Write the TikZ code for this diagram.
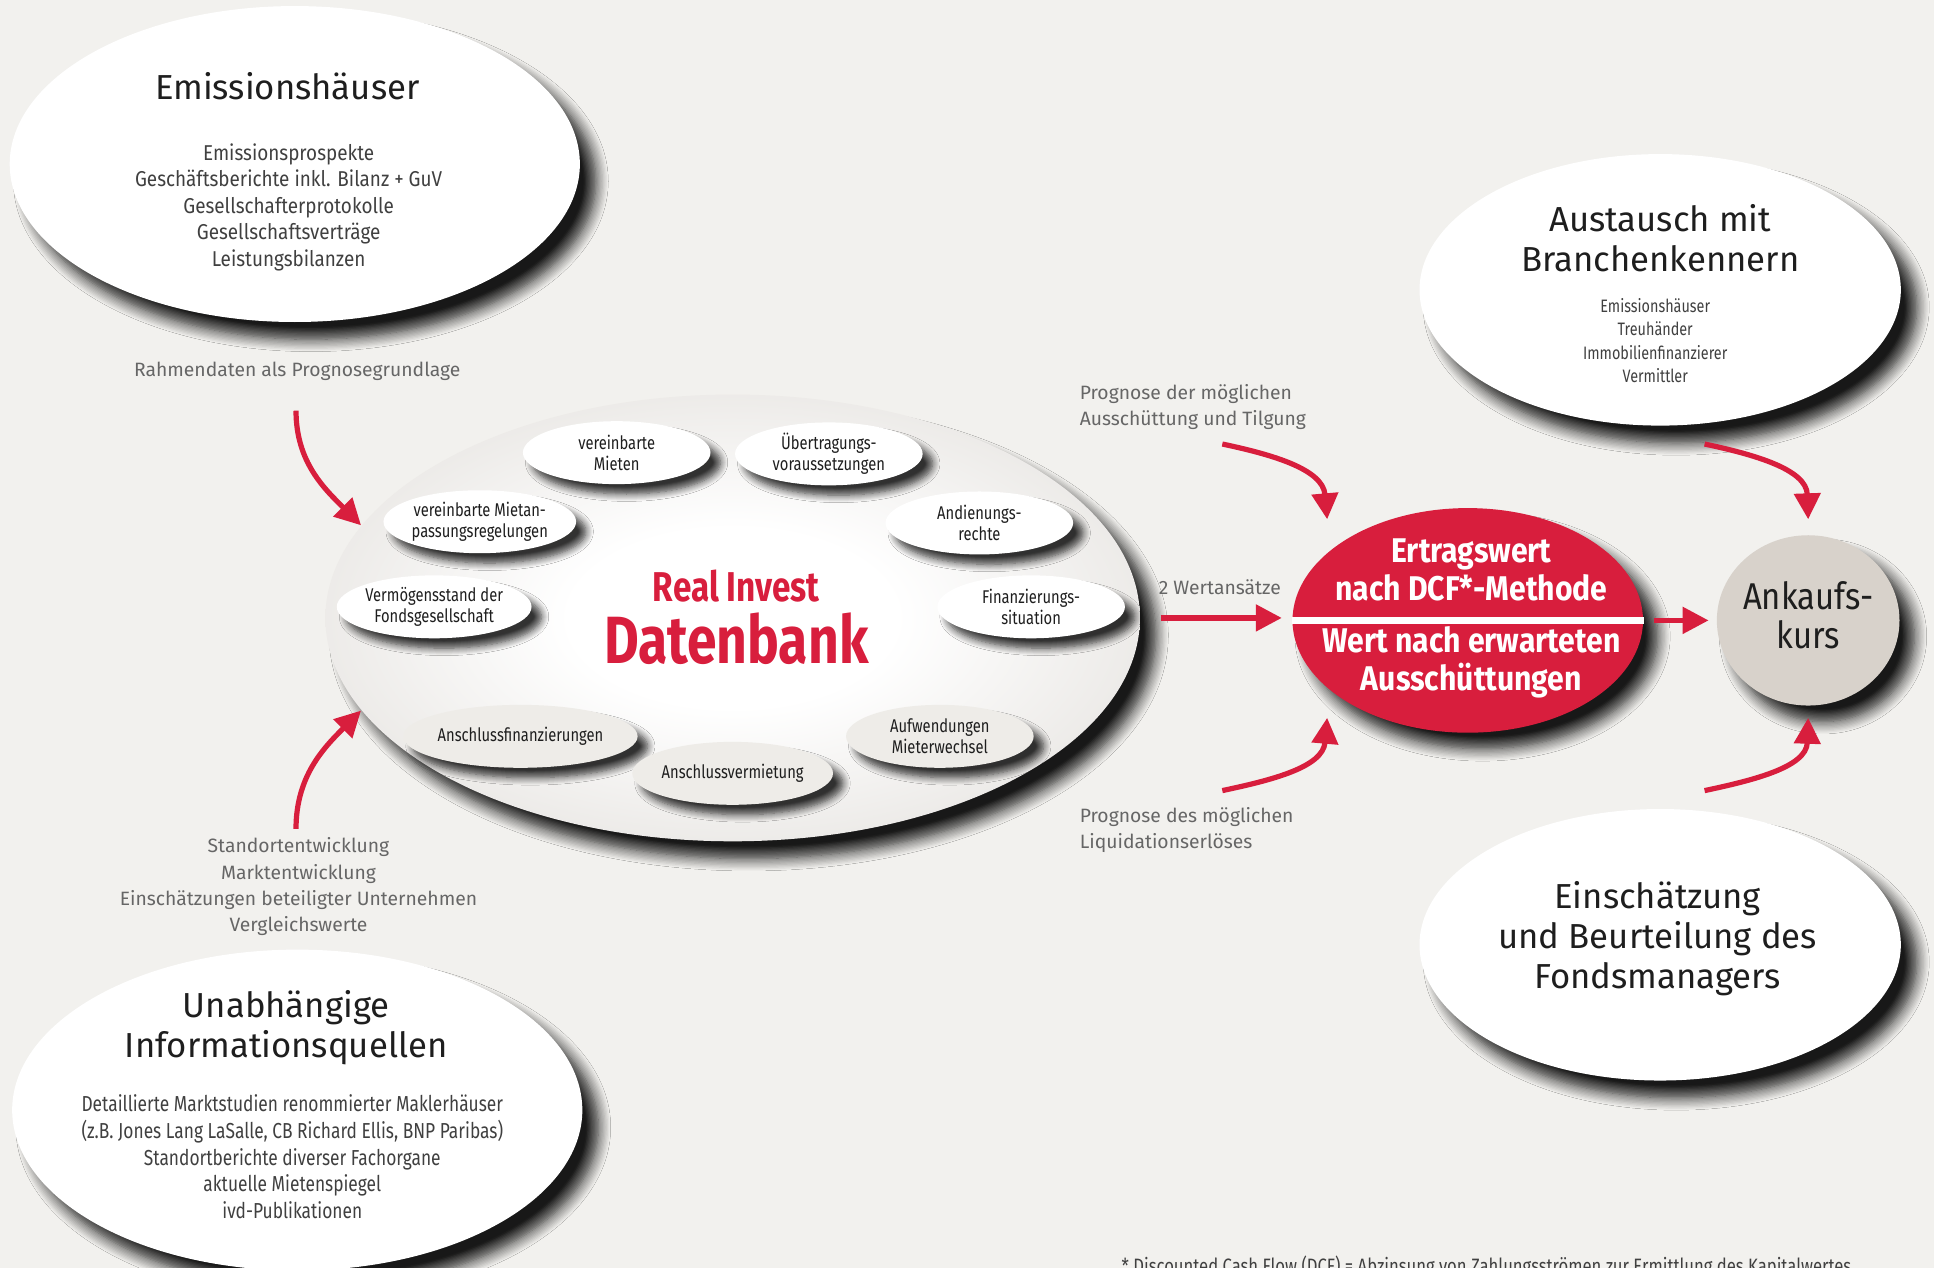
\documentclass[tikz,border=0pt]{standalone}
\usepackage{fontspec}
\setmainfont{Fira Sans}
\newfontfamily\condfont[FakeStretch=0.8]{Fira Sans}
\newfontfamily\semicond[FakeStretch=0.88]{Fira Sans}
\usetikzlibrary{shapes.geometric,arrows.meta,shadows.blur}

\definecolor{bgcol}{HTML}{F2F1EE}
\definecolor{rired}{HTML}{D81E3D}
\definecolor{txtgray}{HTML}{666666}
\definecolor{txtdark}{HTML}{1E1E1E}
\definecolor{kursfill}{HTML}{D8D2CB}
\definecolor{dbmid}{HTML}{E2DFDB}
\definecolor{dbedge}{HTML}{C9C4BF}
\definecolor{ovalgray}{HTML}{EEECE8}

\pgfdeclareradialshading{dbshade}{\pgfpoint{0bp}{0bp}}{color(0bp)=(white); color(10bp)=(white); color(34bp)=(dbmid); color(47bp)=(dbedge); color(50bp)=(dbedge)}

\tikzset{
  bigoval/.style={ellipse, fill=white, inner sep=0pt,
    blur shadow={shadow xshift=1.3mm, shadow yshift=-1.4mm, shadow opacity=90, shadow blur steps=10, shadow blur radius=1mm}},
  smalloval/.style={ellipse, fill=white, inner sep=0pt, align=center,
    minimum width=1.52cm, minimum height=0.51cm, text=txtdark,
    font=\fontsize{4.25}{4.9}\condfont,
    blur shadow={shadow xshift=0.8mm, shadow yshift=-0.8mm, shadow opacity=80, shadow blur steps=8, shadow blur radius=0.6mm}},
  heading/.style={align=center, text=txtdark, font=\fontsize{8}{9.2}\selectfont},
  bodytext/.style={align=center, text=txtdark!85, font=\fontsize{5}{6.15}\condfont},
  graylabel/.style={align=center, text=txtgray, font=\fontsize{4.45}{6.1}\selectfont},
  redarrow/.style={draw=rired, line width=1.2pt, -{Triangle[length=2.1mm,width=2.1mm]}},
}

\begin{document}
\begin{tikzpicture}[x=0.01cm, y=-0.01cm]
\fill[bgcol] (0,0) rectangle (1568,1028);
\useasboundingbox (0,0) rectangle (1568,1028);

% outer sources
\node[bigoval, minimum width=4.62cm, minimum height=2.56cm] (emis) at (239,133) {};
\node[bigoval, minimum width=4.62cm, minimum height=2.6cm] (unab) at (241,900) {};
\node[bigoval, minimum width=3.9cm, minimum height=2.2cm] (aust) at (1346,235) {};
\node[bigoval, minimum width=3.9cm, minimum height=2.2cm] (einsch) at (1346,766) {};

\node[heading] (emishead) at (233,70) {Emissionshäuser};
\node[bodytext, font=\fontsize{4.95}{6.1}\semicond] (emisbody) at (234,168) {Emissionsprospekte\\Geschäftsberichte inkl. Bilanz + GuV\\Gesellschafterprotokolle\\Gesellschaftsverträge\\Leistungsbilanzen};

\node[heading] (unabhead) at (232,833) {Unabhängige\\Informationsquellen};
\node[bodytext] (unabbody) at (237,938) {Detaillierte Marktstudien renommierter Maklerhäuser\\(z.B. Jones Lang LaSalle, CB Richard Ellis, BNP Paribas)\\Standortberichte diverser Fachorgane\\aktuelle Mietenspiegel\\ivd-Publikationen};

\node[heading] (austhead) at (1346,193) {Austausch mit\\Branchenkennern};
\node[align=center, text=txtdark!85, font=\fontsize{4.15}{5.4}\condfont] (austbody) at (1342,276) {Emissionshäuser\\Treuhänder\\Immobilienfinanzierer\\Vermittler};

\node[heading] (einschhead) at (1344,761) {Einschätzung\\und Beurteilung des\\Fondsmanagers};

% database
\node[ellipse, inner sep=0pt, minimum width=6.6cm, minimum height=3.62cm, shade, shading=dbshade,
  blur shadow={shadow xshift=1.3mm, shadow yshift=-1.4mm, shadow opacity=90, shadow blur steps=10, shadow blur radius=1mm}] (db) at (594,501) {};
\node[text=rired, font=\fontsize{9.6}{10}\condfont\bfseries] (dbtitle) at (597,475) {Real Invest};
\node[text=rired, font=\fontsize{15.4}{16}\condfont\bfseries] (dbname) at (597,518) {Datenbank};

\node[smalloval] (miet) at (500,367) {vereinbarte\\Mieten};
\node[smalloval] (uebert) at (672,368) {Übertragungs-\\voraussetzungen};
\node[smalloval] (mietan) at (389,423) {vereinbarte Mietan-\\passungsregelungen};
\node[smalloval] (andien) at (794,424) {Andienungs-\\rechte};
\node[smalloval] (vermoeg) at (352,492) {Vermögensstand der\\Fondsgesellschaft};
\node[smalloval] (finanz) at (836,492) {Finanzierungs-\\situation};
\node[smalloval, fill=ovalgray] (anschfin) at (422,597) {Anschlussfinanzierungen};
\node[smalloval, fill=ovalgray] (anschverm) at (594,627) {Anschlussvermietung};
\node[smalloval, fill=ovalgray] (aufw) at (762,597) {Aufwendungen\\Mieterwechsel};

% valuation
\node[ellipse, inner sep=0pt, fill=rired, minimum width=2.84cm, minimum height=1.82cm,
  blur shadow={shadow xshift=1.2mm, shadow yshift=-1.3mm, shadow opacity=90, shadow blur steps=10, shadow blur radius=1mm}] (dcf) at (1190,503) {};
\draw[white, line width=0.06cm] (dcf.west) -- (dcf.east);
\node[align=center, text=white, font=\fontsize{7.9}{8.6}\semicond\bfseries] (dcftop) at (1193,462) {Ertragswert\\nach DCF*-Methode};
\node[align=center, text=white, font=\fontsize{7.9}{8.8}\semicond\bfseries] (dcfbot) at (1193,537) {Wert nach erwarteten\\Ausschüttungen};

\node[ellipse, inner sep=0pt, fill=kursfill, minimum width=1.48cm, minimum height=1.38cm,
  blur shadow={shadow xshift=1.2mm, shadow yshift=-1.3mm, shadow opacity=90, shadow blur steps=10, shadow blur radius=1mm}] (kurs) at (1466,503) {};
\node[align=center, text=txtdark, font=\fontsize{8.6}{9.1}\semicond] (kurstext) at (1466,499) {Ankaufs-\\kurs};

% labels
\node[graylabel] (rahmen) at (241,301) {Rahmendaten als Prognosegrundlage};
\node[graylabel] (standort) at (242,719) {Standortentwicklung\\Marktentwicklung\\Einschätzungen beteiligter Unternehmen\\Vergleichswerte};
\node[graylabel, anchor=west, align=left] (progA) at (863,330) {Prognose der möglichen\\Ausschüttung und Tilgung};
\node[graylabel, anchor=west, align=left] (progB) at (863,673) {Prognose des möglichen\\Liquidationserlöses};
\node[graylabel] (wert) at (989,476) {2 Wertansätze};
\node[anchor=west, text=txtdark!85, font=\fontsize{4.8}{6}\condfont] (fussnote) at (897,1027) {* Discounted Cash Flow (DCF) = Abzinsung von Zahlungsströmen zur Ermittlung des Kapitalwertes};

% arrow ends
\coordinate (rahmenA) at (240,333);
\coordinate (standortA) at (240,672);
\coordinate (progAs) at (991,360);
\coordinate (progAe) at (1076,421);
\coordinate (progBs) at (991,641);
\coordinate (progBe) at (1076,582);
\coordinate (austs) at (1382,360);
\coordinate (auste) at (1466,421);
\coordinate (einschs) at (1382,641);
\coordinate (einsche) at (1466,582);

\draw[redarrow] (rahmenA) to[out=-90,in=135] (db.166);
\draw[redarrow] (standortA) to[out=90,in=-135] (db.194);
\draw[redarrow] (progAs) to[out=-12,in=95] (progAe);
\draw[redarrow] (progBs) to[out=12,in=-95] (progBe);
\draw[redarrow] (austs) to[out=-12,in=92] (auste);
\draw[redarrow] (einschs) to[out=12,in=-92] (einsche);
\draw[redarrow, shorten <=1.6mm, shorten >=0.8mm] (db.east) -- (db.east -| dcf.west);
\draw[redarrow, shorten <=0.8mm, shorten >=0.6mm] (dcf.east) -- (kurs.west);
\end{tikzpicture}
\end{document}
